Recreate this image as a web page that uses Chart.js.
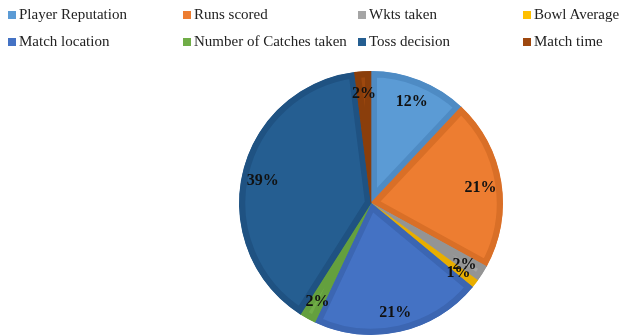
<!DOCTYPE html>
<html lang="en">
<head>
    <meta charset="UTF-8">
    <title>Factors in team selection</title>
    <script src="https://cdn.jsdelivr.net/npm/chart.js"></script>
    <style>
        html, body {
            margin: 0;
            padding: 0;
            background: #fff;
        }
        .wrap {
            position: relative;
            width: 634px;
            height: 336px;
        }
        #legend {
            position: absolute;
            left: 0;
            top: 5px;
            width: 634px;
            font-family: "Liberation Serif", "Times New Roman", serif;
            font-size: 15px;
            color: #222;
            z-index: 2;
        }
        .item {
            position: absolute;
            display: flex;
            align-items: center;
            white-space: nowrap;
            height: 19px;
        }
        .item span.box {
            display: inline-block;
            width: 8px;
            height: 8px;
            margin-right: 3px;
        }
        #pie {
            position: absolute;
            left: 0;
            top: 0;
        }
    </style>
</head>
<body>
<div class="wrap">
    <div id="legend"></div>
    <canvas id="pie" width="634" height="336"></canvas>
</div>

<script>
    // categories and their share of responses (%)
    const factors = ['Player Reputation', 'Runs scored', 'Wkts taken', 'Bowl Average',
        'Match location', 'Number of Catches taken', 'Toss decision', 'Match time'];
    const shares = [12, 21, 2, 1, 21, 2, 39, 2];

    const fills = ['#5B9BD5', '#ED7D31', '#A5A5A5', '#FFC000', '#4472C4', '#70AD47', '#255E91', '#9E480E'];
    const edges = ['#4E8BC4', '#D96F27', '#949494', '#E8AE00', '#3C66B2', '#64A03E', '#1F5282', '#8A3E0B'];

    // legend laid out as a 4-column grid, like the office chart
    const legendEl = document.getElementById('legend');
    const cols = [8, 183, 358, 523];
    factors.forEach((name, i) => {
        const item = document.createElement('div');
        item.className = 'item';
        item.style.left = cols[i % 4] + 'px';
        item.style.top = (Math.floor(i / 4) * 27) + 'px';
        const box = document.createElement('span');
        box.className = 'box';
        box.style.background = fills[i];
        item.appendChild(box);
        item.appendChild(document.createTextNode(name));
        legendEl.appendChild(item);
    });

    // percent labels inside each slice
    const sliceLabels = {
        id: 'sliceLabels',
        afterDatasetsDraw(chart) {
            const ctx = chart.ctx;
            const meta = chart.getDatasetMeta(0);
            ctx.save();
            ctx.font = 'bold 16px "Liberation Serif", "Times New Roman", serif';
            ctx.fillStyle = '#111';
            ctx.textAlign = 'center';
            ctx.textBaseline = 'middle';
            meta.data.forEach((arc, i) => {
                const p = arc.getProps(['x', 'y', 'startAngle', 'endAngle', 'outerRadius'], true);
                const mid = (p.startAngle + p.endAngle) / 2;
                const r = p.outerRadius * 0.84;
                ctx.fillText(shares[i] + '%', p.x + Math.cos(mid) * r, p.y + 2 + Math.sin(mid) * r);
            });
            ctx.restore();
        }
    };

    new Chart(document.getElementById('pie'), {
        type: 'pie',
        data: {
            labels: factors,
            datasets: [{
                data: shares,
                backgroundColor: fills,
                borderColor: edges,
                borderWidth: 6,
                borderAlign: 'inner'
            }]
        },
        options: {
            responsive: false,
            animation: false,
            radius: 132,
            layout: {
                padding: { left: 238, right: 130, top: 70, bottom: 0 }
            },
            plugins: {
                legend: { display: false },
                tooltip: { enabled: false }
            }
        },
        plugins: [sliceLabels]
    });
</script>
</body>
</html>
